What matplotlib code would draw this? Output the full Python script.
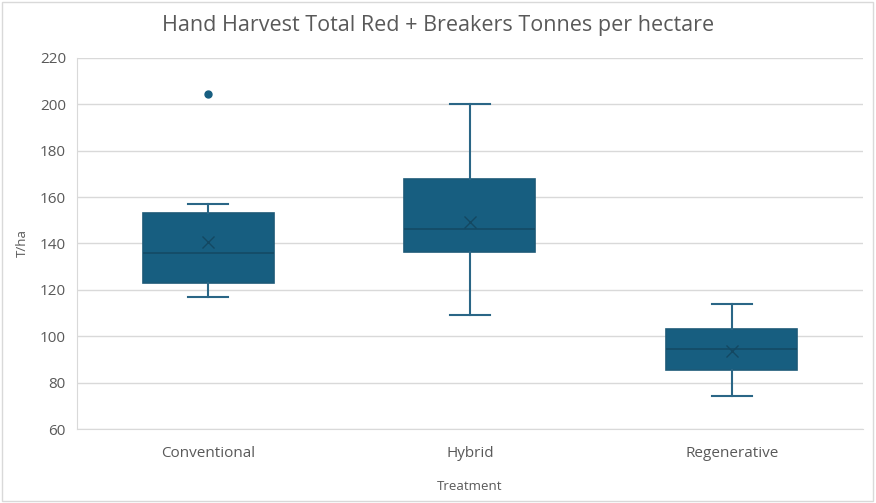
import matplotlib.pyplot as plt
from matplotlib.patches import Rectangle

treatments = ['Conventional', 'Hybrid', 'Regenerative']
whisker_low = [117, 109, 74.2]
q1 = [123, 136.2, 85.4]
median = [135.7, 146.3, 94.3]
q3 = [153, 167.8, 103.1]
whisker_high = [157, 200.3, 114.1]
means = [140.7, 149.3, 93.6]
outliers = [[204.3], [], []]

box_col = '#175E80'
edge_col = '#1C5A78'
text_col = '#595959'

plt.rcParams['font.family'] = ['Open Sans', 'DejaVu Sans']

stats = []
for i in range(len(treatments)):
    stats.append({'label': treatments[i], 'whislo': whisker_low[i], 'q1': q1[i],
                  'med': median[i], 'q3': q3[i], 'whishi': whisker_high[i],
                  'mean': means[i], 'fliers': outliers[i]})

fig = plt.figure(figsize=(8.76, 5.03), dpi=100)
ax = fig.add_axes([0.088, 0.147, 0.897, 0.738])

ax.bxp(stats, positions=range(len(treatments)), widths=0.5, capwidths=0.15,
       patch_artist=True, showmeans=True,
       boxprops=dict(facecolor=box_col, edgecolor=edge_col, linewidth=1.2),
       medianprops=dict(color='#144A65', linewidth=1.2),
       whiskerprops=dict(color='#2A6686', linewidth=1.5),
       capprops=dict(color='#2A6686', linewidth=1.5),
       meanprops=dict(marker='x', markeredgecolor='#134862', markersize=9, markeredgewidth=1),
       flierprops=dict(marker='o', markerfacecolor=box_col, markeredgecolor=box_col, markersize=5))

ax.set_xlim(-0.5, len(treatments) - 0.5)
ax.set_ylim(60, 220)
ax.set_yticks(range(60, 221, 20))
ax.yaxis.grid(True, color='#D9D9D9', linewidth=1)
ax.set_axisbelow(True)
for s in ['top', 'right']:
    ax.spines[s].set_visible(False)
ax.spines['left'].set_color('#D9D9D9')
ax.spines['bottom'].set_color('#D9D9D9')
ax.tick_params(length=0, colors=text_col, labelsize=11)
ax.tick_params(axis='x', pad=12)
ax.tick_params(axis='y', pad=8)

# title centred on the whole figure, like Excel does
fig.text(0.5, 0.95, 'Hand Harvest Total Red + Breakers Tonnes per hectare', fontsize=15.5,
         color=text_col, ha='center', va='center')
ax.set_ylabel('T/ha', color=text_col, fontsize=9.5, labelpad=8)
ax.set_xlabel('Treatment', color=text_col, fontsize=9.5, labelpad=14)

fig.patches.append(Rectangle((0.002, 0.003), 0.995, 0.993, transform=fig.transFigure,
                             fill=False, edgecolor='#D9D9D9', linewidth=1))

fig.savefig('out.png', dpi=100)
